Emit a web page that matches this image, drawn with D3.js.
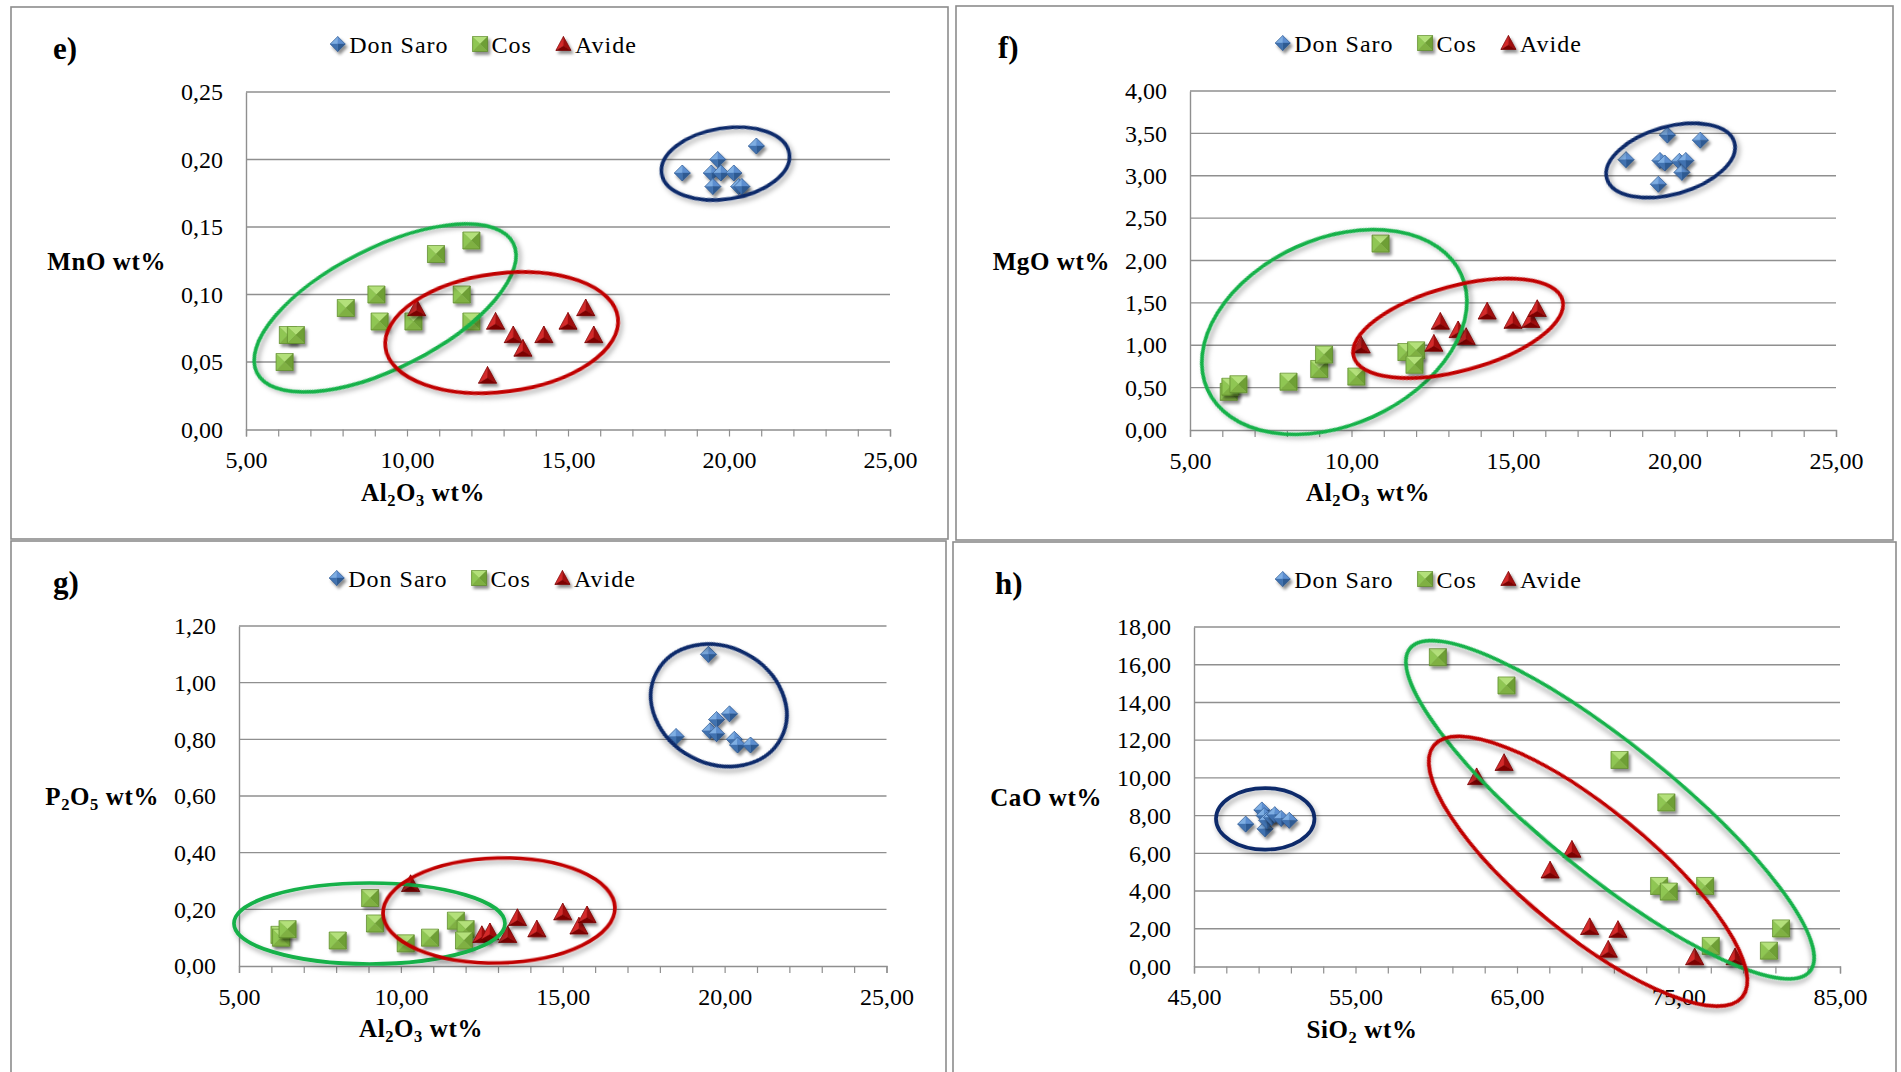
<!DOCTYPE html>
<html>
<head>
<meta charset="utf-8">
<script src="https://cdn.jsdelivr.net/npm/d3@7"></script>
<style>
  html, body { margin: 0; padding: 0; background: #fff; }
  svg { display: block; }
  text { font-family: "Liberation Serif", "Times New Roman", serif; fill: #000; }
</style>
</head>
<body>
<svg id="chart" width="1901" height="1072"></svg>
<script>
// ---------- data: [Al2O3 | SiO2 wt%, oxide wt%] per sample ----------
const seriesNames = ["Don Saro", "Cos", "Avide"];

// e) MnO vs Al2O3
const mnoDonSaro = [[18.55,0.19],[19.45,0.19],[19.5,0.18],[19.65,0.20],[19.75,0.19],[20.15,0.19],[20.3,0.18],[20.4,0.18],[20.85,0.21]];
const mnoCos     = [[6.2,0.05],[6.3,0.07],[6.55,0.07],[8.1,0.09],[9.05,0.10],[9.15,0.08],[10.2,0.08],[10.9,0.13],[11.7,0.10],[12.0,0.14],[12.0,0.08]];
const mnoAvide   = [[10.3,0.09],[12.5,0.04],[12.75,0.08],[13.3,0.07],[13.6,0.06],[14.25,0.07],[15.0,0.08],[15.55,0.09],[15.8,0.07]];

// f) MgO vs Al2O3
const mgoDonSaro = [[18.5,3.19],[19.5,2.90],[19.55,3.18],[19.7,3.15],[19.78,3.48],[20.15,3.17],[20.23,3.04],[20.35,3.18],[20.8,3.42]];
const mgoCos     = [[6.2,0.45],[6.25,0.51],[6.5,0.54],[8.05,0.57],[9.0,0.72],[9.15,0.89],[10.15,0.63],[10.9,2.20],[11.7,0.92],[12.0,0.94],[11.95,0.77]];
const mgoAvide   = [[10.3,1.00],[12.55,1.02],[12.75,1.28],[13.3,1.18],[13.55,1.10],[14.2,1.40],[15.0,1.29],[15.55,1.30],[15.75,1.43]];

// g) P2O5 vs Al2O3
const p2o5DonSaro = [[18.5,0.81],[19.5,1.10],[19.55,0.83],[19.75,0.87],[19.75,0.82],[20.15,0.89],[20.3,0.80],[20.4,0.78],[20.8,0.78]];
const p2o5Cos     = [[6.25,0.11],[6.3,0.10],[6.5,0.13],[8.05,0.09],[9.05,0.24],[9.2,0.15],[10.15,0.08],[10.9,0.10],[11.7,0.16],[12.0,0.13],[11.95,0.09]];
const p2o5Avide   = [[10.3,0.29],[12.5,0.11],[12.75,0.12],[13.3,0.11],[13.6,0.17],[14.2,0.13],[15.0,0.19],[15.5,0.14],[15.75,0.18]];

// h) CaO vs SiO2
const caoDonSaro = [[48.2,7.55],[49.2,8.3],[49.35,8.0],[49.4,7.3],[49.5,7.75],[49.8,7.9],[50.0,8.05],[50.4,7.85],[50.9,7.75]];
const caoCos     = [[60.1,16.4],[64.35,14.9],[71.35,10.95],[74.25,8.7],[73.8,4.27],[74.4,3.97],[76.65,4.27],[77.0,1.09],[80.6,0.84],[81.35,2.02]];
const caoAvide   = [[62.5,10.05],[64.2,10.8],[67.05,5.1],[68.4,6.2],[69.5,2.1],[70.65,0.9],[71.25,1.95],[76.0,0.5],[78.5,0.5]];

// tick values
const al2o3Ticks = [5, 10, 15, 20, 25];
const sio2Ticks  = [45, 55, 65, 75, 85];
const mnoTicks   = [0, 0.05, 0.10, 0.15, 0.20, 0.25];
const mgoTicks   = [0, 0.5, 1, 1.5, 2, 2.5, 3, 3.5, 4];
const p2o5Ticks  = [0, 0.2, 0.4, 0.6, 0.8, 1.0, 1.2];
const caoTicks   = [0, 2, 4, 6, 8, 10, 12, 14, 16, 18];

// ---------- layout ----------
const outlineColors = { ds: "#0d2a6b", cos: "#14b14a", av: "#c00000" };

const panels = [
  { label: "e)", box: { x: 11, y: 7, w: 937, h: 532 },
    plot: { l: 246, t: 92, r: 890, b: 429.5 },
    xDomain: [5, 25], xTicks: al2o3Ticks, xMinor: 1,
    yDomain: [0, 0.25], yTicks: mnoTicks,
    xTitle: [["Al"], ["2", 1], ["O"], ["3", 1], [" wt%"]], xTitleOffset: 177,
    yTitle: [["MnO wt%"]],
    series: [mnoDonSaro, mnoCos, mnoAvide],
    outlines: [
      { c: [9.32, 0.090], rx: 143.6, ry: 60, angle: 26.8, color: outlineColors.cos },
      { c: [12.94, 0.0718], rx: 117.2, ry: 59.1, angle: 7.3, color: outlineColors.av },
      { c: [19.89, 0.197], rx: 64.6, ry: 35.5, angle: 9, color: outlineColors.ds }
    ] },
  { label: "f)", box: { x: 956, y: 6, w: 937, h: 534 },
    plot: { l: 1190, t: 91, r: 1836, b: 430 },
    xDomain: [5, 25], xTicks: al2o3Ticks, xMinor: 1,
    yDomain: [0, 4], yTicks: mgoTicks,
    xTitle: [["Al"], ["2", 1], ["O"], ["3", 1], [" wt%"]], xTitleOffset: 178,
    yTitle: [["MgO wt%"]],
    series: [mgoDonSaro, mgoCos, mgoAvide],
    outlines: [
      { c: [9.47, 1.156], rx: 139.3, ry: 93.1, angle: 24.4, color: outlineColors.cos },
      { c: [13.30, 1.20], rx: 108.2, ry: 42.4, angle: 15.1, color: outlineColors.av },
      { c: [19.88, 3.18], rx: 66.3, ry: 33.8, angle: 15.8, color: outlineColors.ds }
    ] },
  { label: "g)", box: { x: 11, y: 541, w: 935, h: 540 },
    plot: { l: 239, t: 626, r: 886.5, b: 966 },
    xDomain: [5, 25], xTicks: al2o3Ticks, xMinor: 1,
    yDomain: [0, 1.2], yTicks: p2o5Ticks,
    xTitle: [["Al"], ["2", 1], ["O"], ["3", 1], [" wt%"]], xTitleOffset: 182,
    yTitle: [["P"], ["2", 1], ["O"], ["5", 1], [" wt%"]],
    series: [p2o5DonSaro, p2o5Cos, p2o5Avide],
    outlines: [
      { c: [9.03, 0.150], rx: 135.5, ry: 40.5, angle: 0, color: outlineColors.cos },
      { c: [13.03, 0.196], rx: 116, ry: 52.5, angle: 1.5, color: outlineColors.av },
      { c: [19.82, 0.920], rx: 70.4, ry: 58.4, angle: -27.9, color: outlineColors.ds }
    ] },
  { label: "h)", box: { x: 953, y: 542, w: 943, h: 540 },
    plot: { l: 1194, t: 627, r: 1840, b: 966.5 },
    xDomain: [45, 85], xTicks: sio2Ticks, xMinor: 2,
    yDomain: [0, 18], yTicks: caoTicks,
    xTitle: [["SiO"], ["2", 1], [" wt%"]], xTitleOffset: 168,
    yTitle: [["CaO wt%"]],
    series: [caoDonSaro, caoCos, caoAvide],
    outlines: [
      { c: [70.76, 8.31], rx: 257, ry: 65, angle: -38.9, color: outlineColors.cos },
      { c: [69.4, 5.05], rx: 199, ry: 63, angle: -39.2, color: outlineColors.av },
      { c: [49.41, 7.83], rx: 49.25, ry: 30.75, angle: 0, color: outlineColors.ds }
    ] }
];

const fmt = d3.formatLocale({ decimal: ",", thousands: ".", grouping: [3], currency: ["", ""] }).format(".2f");

const svg = d3.select("#chart");

// soft shadows under markers and outlines
const defs = svg.append("defs");
defs.append("filter").attr("id", "markerShadow")
  .attr("x", "-60%").attr("y", "-60%").attr("width", "220%").attr("height", "220%")
  .append("feDropShadow").attr("dx", 2.2).attr("dy", 3).attr("stdDeviation", 1.8)
  .attr("flood-color", "#000").attr("flood-opacity", 0.45);
defs.append("filter").attr("id", "ringShadow")
  .attr("x", "-20%").attr("y", "-20%").attr("width", "140%").attr("height", "140%")
  .append("feDropShadow").attr("dx", 2).attr("dy", 3.5).attr("stdDeviation", 2.6)
  .attr("flood-color", "#000").attr("flood-opacity", 0.33);

// faceted (bevelled) marker glyphs
function facets(type, s) {
  const C = [0, 0];
  if (type === 0) { // diamond
    const T = [0, -s], R = [s, 0], B = [0, s], L = [-s, 0];
    return [[[T, L, C], "#7eaee3"], [[T, R, C], "#5b8ed0"], [[R, B, C], "#2d5a92"], [[B, L, C], "#4172b0"]];
  }
  if (type === 1) { // square
    const TL = [-s, -s], TR = [s, -s], BR = [s, s], BL = [-s, s];
    return [[[TL, TR, C], "#b3e07a"], [[TL, BL, C], "#8fc653"], [[TR, BR, C], "#6e9f34"], [[BL, BR, C], "#7fb043"]];
  }
  // triangle
  const T = [0, -s], BL = [-s, 0.85 * s], BR = [s, 0.85 * s], Cc = [0, 0.28 * s];
  return [[[T, BL, Cc], "#d42a2a"], [[T, BR, Cc], "#a10d0d"], [[BL, BR, Cc], "#7d0303"]];
}
const edgeColor = ["#2b5287", "#557f26", "#6e0000"];

function drawMarker(sel, type, s) {
  const g = sel.append("g").attr("filter", "url(#markerShadow)");
  facets(type, s).forEach(([pts, col]) => {
    g.append("path").attr("d", "M" + pts.map(p => p.join(",")).join("L") + "Z")
      .attr("fill", col).attr("stroke", col).attr("stroke-width", 0.4);
  });
  const outline = type === 2
    ? [[0, -s], [s, 0.85 * s], [-s, 0.85 * s]]
    : type === 0 ? [[0, -s], [s, 0], [0, s], [-s, 0]] : [[-s, -s], [s, -s], [s, s], [-s, s]];
  g.append("path").attr("d", "M" + outline.map(p => p.join(",")).join("L") + "Z")
    .attr("fill", "none").attr("stroke", edgeColor[type]).attr("stroke-width", 0.6);
  return g;
}

function richText(sel, parts, size) {
  parts.forEach(([t, sub]) => {
    sel.append("tspan").text(t)
      .attr("font-size", sub ? size * 0.66 : size)
      .attr("baseline-shift", sub ? "-28%" : null);
  });
  return sel;
}

const markerSize = [8, 8.5, 9];
const gridColor = "#8f8f8f";
const tickFont = 24;
const titleFont = 25;
const legendGap = 24;

panels.forEach(p => {
  const g = svg.append("g");

  // panel frame
  g.append("rect").attr("x", p.box.x).attr("y", p.box.y)
    .attr("width", p.box.w).attr("height", p.box.h)
    .attr("fill", "none").attr("stroke", "#8c8c8c").attr("stroke-width", 1.6);

  const x = d3.scaleLinear().domain(p.xDomain).range([p.plot.l, p.plot.r]);
  const y = d3.scaleLinear().domain(p.yDomain).range([p.plot.b, p.plot.t]);

  // horizontal gridlines
  g.append("g").selectAll("line").data(p.yTicks.slice(1)).join("line")
    .attr("x1", p.plot.l).attr("x2", p.plot.r)
    .attr("y1", d => y(d)).attr("y2", d => y(d))
    .attr("stroke", gridColor).attr("stroke-width", 1.4);

  // minor tick marks on the x axis
  const minorTicks = d3.range(p.xDomain[0], p.xDomain[1] + p.xMinor / 2, p.xMinor);
  const minorAxis = g.append("g").attr("transform", `translate(0,${p.plot.b})`)
    .call(d3.axisBottom(x).tickValues(minorTicks).tickSize(7).tickFormat(""));
  minorAxis.selectAll("line").attr("stroke", gridColor).attr("stroke-width", 1.2);
  minorAxis.select(".domain").attr("stroke", gridColor).attr("stroke-width", 1.4);

  // x labels
  const xAxis = g.append("g").attr("transform", `translate(0,${p.plot.b})`)
    .call(d3.axisBottom(x).tickValues(p.xTicks).tickSize(0).tickPadding(21.5).tickFormat(fmt));
  xAxis.select(".domain").remove();
  xAxis.selectAll("text").attr("font-size", tickFont).attr("font-family", "Liberation Serif");

  // y axis with labels
  const yAxis = g.append("g").attr("transform", `translate(${p.plot.l},0)`)
    .call(d3.axisLeft(y).tickValues(p.yTicks).tickSize(0).tickPadding(23).tickFormat(fmt));
  yAxis.select(".domain").attr("stroke", gridColor).attr("stroke-width", 1.4);
  yAxis.selectAll("text").attr("font-size", tickFont).attr("font-family", "Liberation Serif");
  const yLabelBox = yAxis.node().getBBox();

  // axis titles
  richText(g.append("text")
    .attr("x", p.plot.l + p.xTitleOffset).attr("y", p.plot.b + 71)
    .attr("text-anchor", "middle").attr("font-weight", "bold")
    .attr("letter-spacing", 0.6), p.xTitle, titleFont);
  richText(g.append("text")
    .attr("x", p.plot.l + yLabelBox.x - 15).attr("y", (p.plot.t + p.plot.b) / 2 + 9)
    .attr("text-anchor", "end").attr("font-weight", "bold")
    .attr("letter-spacing", 0.6), p.yTitle, titleFont);

  // panel letter
  g.append("text").attr("x", p.box.x + 42).attr("y", p.box.y + 52)
    .attr("font-size", 31).attr("font-weight", "bold").text(p.label);

  // legend, centred over the panel
  const legend = g.append("g");
  const ly = p.box.y + 37;
  let lx = 0;
  seriesNames.forEach((name, i) => {
    const s = 7.5;
    drawMarker(legend.append("g").attr("transform", `translate(${lx + s},${ly})`), i, s);
    const t = legend.append("text").attr("x", lx + 2 * s + 4).attr("y", ly + 8.5)
      .attr("font-size", 24).attr("letter-spacing", 1).text(name);
    lx = lx + 2 * s + 4 + t.node().getComputedTextLength() + legendGap;
  });
  const lw = lx - legendGap;
  legend.attr("transform", `translate(${p.box.x + p.box.w / 2 + 4 - lw / 2},0)`);

  // data points
  p.series.forEach((pts, i) => {
    const sg = g.append("g");
    pts.forEach(d => {
      drawMarker(sg.append("g").attr("transform", `translate(${x(d[0])},${y(d[1])})`), i, markerSize[i]);
    });
  });

  // group outlines
  g.append("g").selectAll("ellipse").data(p.outlines).join("ellipse")
    .attr("cx", 0).attr("cy", 0)
    .attr("rx", d => d.rx).attr("ry", d => d.ry)
    .attr("transform", d => `translate(${x(d.c[0])},${y(d.c[1])}) rotate(${-d.angle})`)
    .attr("fill", "none").attr("stroke", d => d.color).attr("stroke-width", 3.7)
    .attr("filter", "url(#ringShadow)");
});
</script>
</body>
</html>
